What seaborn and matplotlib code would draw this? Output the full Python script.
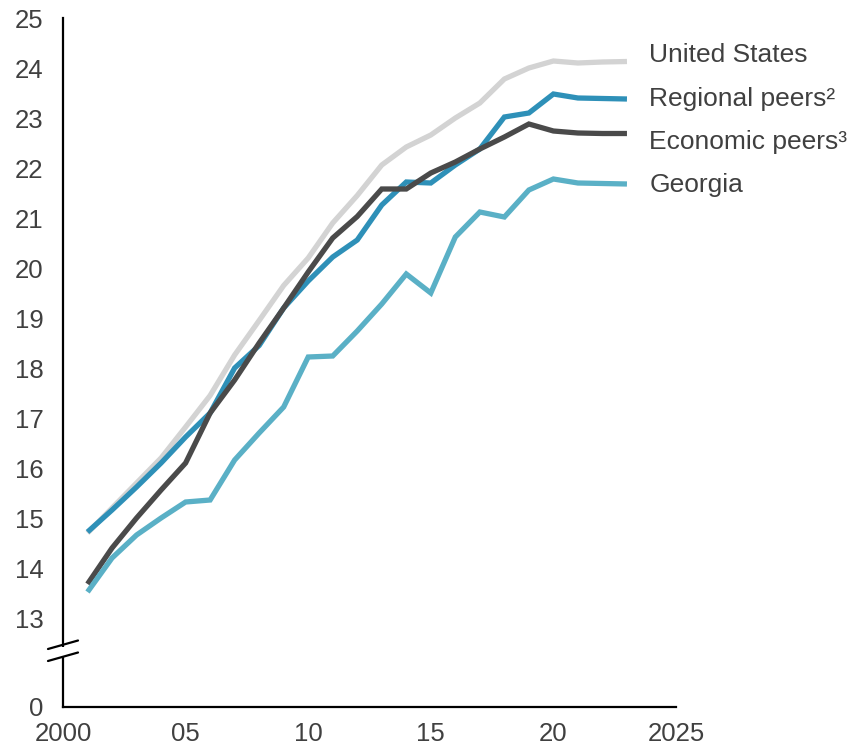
import numpy as np
import pandas as pd
import matplotlib
matplotlib.use("Agg")
import matplotlib.pyplot as plt
import matplotlib.transforms as mtransforms
from matplotlib.lines import Line2D
from matplotlib.patches import Rectangle
import seaborn as sns

years = list(range(2001, 2024))

united_states = [14.70, 15.20, 15.70, 16.20, 16.82, 17.45, 18.26, 18.95, 19.65, 20.20,
                 20.90, 21.45, 22.06, 22.42, 22.66, 23.00, 23.30, 23.78, 24.00, 24.14,
                 24.10, 24.12, 24.13]
regional_peers = [14.72, 15.16, 15.62, 16.10, 16.62, 17.10, 18.00, 18.45, 19.20, 19.74,
                  20.22, 20.56, 21.26, 21.72, 21.70, 22.06, 22.38, 23.02, 23.10, 23.48,
                  23.40, 23.39, 23.38]
economic_peers = [13.68, 14.40, 15.00, 15.56, 16.10, 17.10, 17.76, 18.50, 19.20, 19.92,
                  20.60, 21.03, 21.58, 21.58, 21.90, 22.12, 22.38, 22.62, 22.88, 22.74,
                  22.70, 22.69, 22.69]
georgia = [13.52, 14.20, 14.66, 15.00, 15.32, 15.36, 16.16, 16.70, 17.22, 18.22,
           18.24, 18.74, 19.28, 19.88, 19.50, 20.62, 21.12, 21.02, 21.56, 21.78,
           21.70, 21.69, 21.68]

series_names = ["United States", "Regional peers", "Economic peers", "Georgia"]
series_labels = ["United States", "Regional peers\u00b2", "Economic peers\u00b3", "Georgia"]
series_values = [united_states, regional_peers, economic_peers, georgia]

x_ticks = [2000, 2005, 2010, 2015, 2020, 2025]
x_tick_labels = ["2000", "05", "10", "15", "20", "2025"]
y_ticks = list(range(13, 26))

colors = {
    "United States": "#d3d3d3",
    "Regional peers": "#2e90b8",
    "Economic peers": "#4a4a4a",
    "Georgia": "#5ab0c6",
}
label_offsets_pt = {  # vertical nudges for the end labels, in points
    "United States": 4.5,
    "Regional peers": 0.0,
    "Economic peers": -6.0,
    "Georgia": -1.0,
}

df = pd.DataFrame({
    "year": years * len(series_names),
    "value": [v for vals in series_values for v in vals],
    "series": [n for n in series_names for _ in years],
})

sns.set_theme(style="white")
plt.rcParams["font.family"] = ["Liberation Sans", "DejaVu Sans"]
text_color = "#404040"

fig = plt.figure(figsize=(8.53, 7.45), dpi=100)
ax = fig.add_axes([63 / 853, 38 / 745, 613 / 853, 689 / 745])

sns.lineplot(data=df, x="year", y="value", hue="series", palette=colors,
             hue_order=series_names, linewidth=3.8, legend=False, ax=ax,
             solid_capstyle="butt", solid_joinstyle="miter")

# broken y-axis: the baseline stands for 0, the scale resumes at 13
y_zero_pos = 11.22
ax.set_xlim(2000, 2025)
ax.set_ylim(y_zero_pos, 25)
ax.set_xticks(x_ticks)
ax.set_xticklabels(x_tick_labels)
ax.set_yticks([y_zero_pos] + y_ticks)
ax.set_yticklabels(["0"] + [str(t) for t in y_ticks])
ax.tick_params(axis="both", length=0, labelsize=18.5, colors=text_color)
ax.tick_params(axis="y", pad=14)
ax.tick_params(axis="x", pad=11)

for side in ["top", "right"]:
    ax.spines[side].set_visible(False)
for side in ["left", "bottom"]:
    ax.spines[side].set_color("black")
    ax.spines[side].set_linewidth(1.6)

ax.set_xlabel("")
ax.set_ylabel("")

# break marks on the y-axis
trans = mtransforms.blended_transform_factory(ax.transAxes, ax.transData)
ax.add_patch(Rectangle((-0.01, 12.24), 0.02, 0.18, transform=trans,
                       facecolor="white", edgecolor="none", clip_on=False, zorder=5))
for y0 in (12.38, 12.14):
    ax.add_line(Line2D([-0.0245, 0.0245], [y0, y0 + 0.17], transform=trans,
                       color="black", linewidth=1.6, clip_on=False, zorder=6))

# end-of-line labels
for name, label, vals in zip(series_names, series_labels, series_values):
    ax.annotate(label, xy=(years[-1], vals[-1]), xytext=(16, label_offsets_pt[name]),
                textcoords="offset points", ha="left", va="center",
                fontsize=19, color=text_color, annotation_clip=False)

fig.savefig("out.png", dpi=100)
